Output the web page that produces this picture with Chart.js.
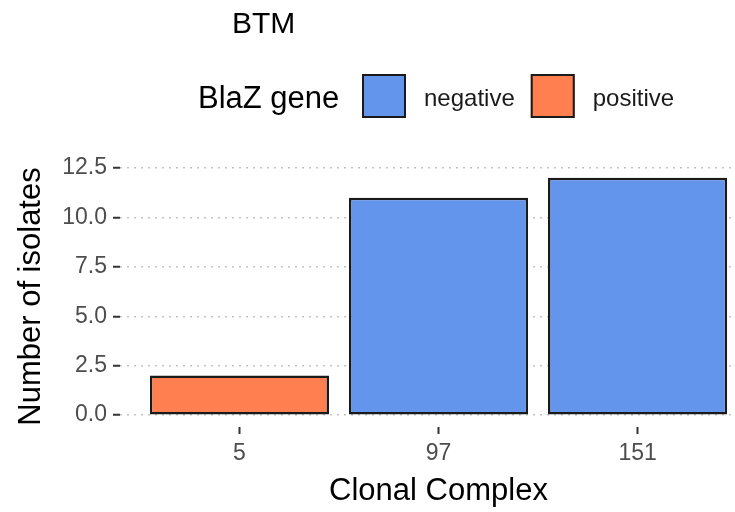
<!DOCTYPE html>
<html>
<head>
<meta charset="utf-8">
<script src="https://cdn.jsdelivr.net/npm/chart.js@4/dist/chart.umd.min.js"></script>
<style>
  html, body { margin: 0; padding: 0; background: #fff; overflow: hidden; width: 735px; height: 512px; }
  canvas { display: block; }
</style>
</head>
<body>
<canvas id="chart" width="770" height="512" style="width:770px;height:512px"></canvas>
<script>
// Isolates per clonal complex, coloured by BlaZ gene status
const categories = ['5', '97', '151'];
const isolateCounts = [2, 11, 12];
const blazStatus = ['positive', 'negative', 'negative'];
const blazGroups = ['negative', 'positive'];
const groupColors = ['#6495ED', '#FF7F50'];
const yTicks = [0, 2.5, 5, 7.5, 10, 12.5];
const titleText = 'BTM';
const legendTitle = 'BlaZ gene';
const xTitle = 'Clonal Complex';
const yTitle = 'Number of isolates';

const FONT = '"Liberation Sans", Arial, Helvetica, sans-serif';

const datasets = blazGroups.map((group, gi) => ({
  label: group,
  data: categories
    .map((c, k) => (blazStatus[k] === group ? { x: k + 1, y: isolateCounts[k] } : null))
    .filter(Boolean),
  backgroundColor: groupColors[gi],
  borderColor: '#1a1a1a',
  borderWidth: 2.5,
  borderSkipped: false,
  grouped: false,
  barPercentage: 0.9,
  categoryPercentage: 1.0
}));

// Title and a horizontal legend with its title on the left
const headerPlugin = {
  id: 'header',
  afterDraw(chart) {
    const ctx = chart.ctx;
    ctx.save();
    ctx.textBaseline = 'alphabetic';
    ctx.textAlign = 'left';
    ctx.fillStyle = '#000';
    ctx.font = '30px ' + FONT;
    ctx.fillText(titleText, 232, 33);
    ctx.font = '31px ' + FONT;
    ctx.fillText(legendTitle, 198, 108);
    let x = 362;
    chart.data.datasets.forEach(ds => {
      ctx.fillStyle = ds.backgroundColor;
      ctx.fillRect(x, 74, 44, 44);
      ctx.strokeStyle = '#1a1a1a';
      ctx.lineWidth = 2;
      ctx.strokeRect(x + 1, 75, 42, 42);
      ctx.fillStyle = '#1a1a1a';
      ctx.font = '24px ' + FONT;
      ctx.fillText(ds.label, x + 62, 106);
      x += 62 + ctx.measureText(ds.label).width + 16;
    });
    ctx.restore();
  }
};

new Chart(document.getElementById('chart'), {
  type: 'bar',
  data: { datasets },
  plugins: [headerPlugin],
  options: {
    responsive: false,
    animation: false,
    layout: { padding: { top: 166, right: 13, left: 0, bottom: 0 } },
    plugins: {
      legend: { display: false },
      title: { display: false },
      tooltip: { enabled: false }
    },
    scales: {
      x: {
        type: 'linear',
        min: 0.4,
        max: 3.6,
        offset: false,
        afterBuildTicks: s => { s.ticks = categories.map((c, i) => ({ value: i + 1 })); },
        afterFit: s => { s.height = 85; },
        ticks: {
          autoSkip: false,
          maxRotation: 0,
          padding: 6,
          color: '#4d4d4d',
          font: { family: FONT, size: 23 },
          callback: v => categories[v - 1]
        },
        grid: {
          offset: false,
          drawOnChartArea: false,
          drawTicks: true,
          tickLength: 7,
          tickColor: '#333',
          tickWidth: 2
        },
        border: { display: false },
        title: {
          display: true,
          text: xTitle,
          color: '#000',
          font: { family: FONT, size: 31 },
          padding: { top: 0, bottom: 2 }
        }
      },
      y: {
        min: -0.6,
        max: 12.6,
        afterBuildTicks: s => { s.ticks = yTicks.map(v => ({ value: v })); },
        afterFit: s => { s.width = 120; },
        ticks: {
          padding: 6,
          color: '#4d4d4d',
          font: { family: FONT, size: 23 },
          callback: v => Number(v).toFixed(1)
        },
        grid: {
          color: '#c4c4c4',
          lineWidth: 1.5,
          drawTicks: true,
          tickLength: 7,
          tickColor: '#333',
          tickWidth: 2
        },
        border: { display: false, dash: [2, 5] },
        title: {
          display: true,
          text: yTitle,
          color: '#000',
          font: { family: FONT, size: 31 },
          padding: { top: 13, bottom: 0 }
        }
      }
    }
  }
});
</script>
</body>
</html>
